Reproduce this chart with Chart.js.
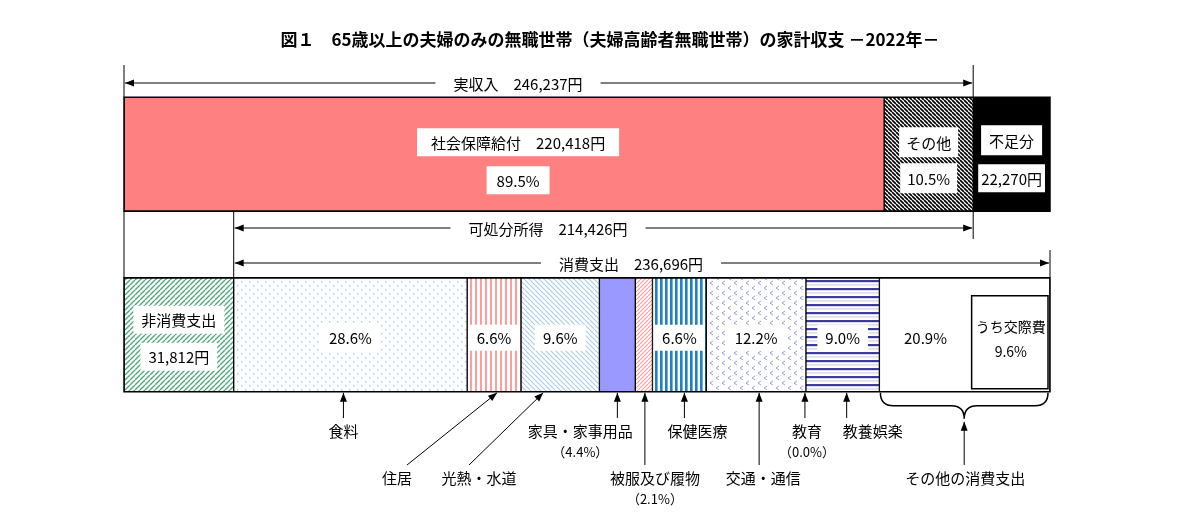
<!DOCTYPE html>
<html lang="ja">
<head>
<meta charset="utf-8">
<title>家計収支 2022</title>
<script src="https://cdn.jsdelivr.net/npm/chart.js@4.4.1/dist/chart.umd.min.js"></script>
<style>
html, body { margin: 0; padding: 0; background: #fff; }
#wrap { width: 1180px; height: 523px; }
</style>
</head>
<body>
<div id="wrap"><canvas id="chart-household" width="1180" height="523"></canvas></div>
<script>
// values
var rows = ['収入', '支出'];
var incomeLabels = ['社会保障給付', 'その他', '不足分'];
var incomeValues = [220418, 25819, 22270];
var incomePct = [89.5, 10.5];
var nonConsumptionLabel = '非消費支出';
var nonConsumption = 31812;
var consumptionTotal = 236696;
var spendLabels = ['食料', '住居', '光熱・水道', '家具・家事用品', '被服及び履物', '保健医療', '交通・通信', '教育', '教養娯楽', 'その他の消費支出'];
var spendPct = [28.6, 6.6, 9.6, 4.4, 2.1, 6.6, 12.2, 0.0, 9.0, 20.9];
var socialLabel = 'うち交際費';
var socialPct = 9.6;
var spanLabels = ['実収入', '可処分所得', '消費支出'];
var spanValues = [246237, 214426, 236696];

var FONT = '"Noto Sans CJK JP", "Noto Sans", sans-serif';
var ctx0 = document.getElementById('chart-household').getContext('2d');

function yen(v) { return v.toLocaleString('en-US') + '円'; }

function makePattern(w, h, draw) {
    var c = document.createElement('canvas');
    c.width = w; c.height = h;
    var g = c.getContext('2d');
    g.fillStyle = '#fff';
    g.fillRect(0, 0, w, h);
    draw(g, w, h);
    return ctx0.createPattern(c, 'repeat');
}
function diag(color, p, lw, back) {
    return makePattern(p, p, function(g) {
        g.strokeStyle = color; g.lineWidth = lw;
        g.beginPath();
        for (var k = -1; k <= 1; k++) {
            if (back) { g.moveTo(k * p, 0); g.lineTo(k * p + p, p); }
            else { g.moveTo(k * p, p); g.lineTo(k * p + p, 0); }
        }
        g.stroke();
    });
}
function vstripes(color, p, lw) {
    return makePattern(p, 4, function(g) {
        g.fillStyle = color; g.fillRect(0, 0, lw, 4);
    });
}

var patIncomeOther = diag('#000', 4, 1.7, true);
var patNonCons = diag('#4fa67c', 5, 1.4, false);
var patFood = makePattern(8, 8, function(g) {
    g.fillStyle = '#a9cdf2';
    g.fillRect(1, 1, 1.5, 1.5); g.fillRect(5, 5, 1.5, 1.5);
});
var patHousing = vstripes('#ff9c9c', 5, 2);
var patUtil = diag('#a6cdf0', 5, 1.2, true);
var patClothes = diag('#ff9c9c', 4, 1.1, false);
var patHealth = vstripes('#1f80c4', 5, 2.6);
var patTrans = makePattern(12, 10, function(g) {
    g.strokeStyle = '#9c9cf0'; g.lineWidth = 1;
    g.beginPath();
    g.moveTo(5, 1); g.lineTo(2, 3); g.lineTo(5, 5);
    g.moveTo(11, 6); g.lineTo(8, 8); g.lineTo(11, 10);
    g.stroke();
});
var patCulture = makePattern(4, 8, function(g) {
    g.fillStyle = '#3d3d99'; g.fillRect(0, 0, 4, 2.2);
    g.fillStyle = '#c8c8e0'; g.fillRect(0, 4.5, 4, 1);
});

var incomeFills = ['#ff8080', patIncomeOther, '#000'];
var spendFills = [patFood, patHousing, patUtil, '#9999ff', patClothes, patHealth, patTrans, '#fff', patCulture, '#fff'];

var datasets = [];
incomeLabels.forEach(function(name, i) {
    datasets.push({ label: name, data: [incomeValues[i], null], backgroundColor: incomeFills[i] });
});
datasets.push({ label: nonConsumptionLabel, data: [null, nonConsumption], backgroundColor: patNonCons });
spendLabels.forEach(function(name, i) {
    datasets.push({ label: name, data: [null, consumptionTotal * spendPct[i] / 100], backgroundColor: spendFills[i] });
});
datasets.forEach(function(d) {
    d.borderColor = '#000';
    d.borderWidth = 1;
    d.borderSkipped = false;
    d.barThickness = 114;
});

var maxValue = nonConsumption + consumptionTotal;

function arrowHead(ctx, x, y, ang) {
    ctx.save();
    ctx.translate(x, y); ctx.rotate(ang);
    ctx.beginPath();
    ctx.moveTo(0, 0); ctx.lineTo(-9, -3.5); ctx.lineTo(-9, 3.5); ctx.closePath();
    ctx.fill();
    ctx.restore();
}
function arrow(ctx, x1, y1, x2, y2) {
    ctx.beginPath(); ctx.moveTo(x1, y1); ctx.lineTo(x2, y2); ctx.stroke();
    arrowHead(ctx, x2, y2, Math.atan2(y2 - y1, x2 - x1));
}
function boxText(ctx, text, cx, cy, padX, boxH) {
    var w = ctx.measureText(text).width;
    ctx.fillStyle = '#fff';
    ctx.fillRect(cx - w / 2 - padX, cy - boxH / 2, w + 2 * padX, boxH);
    ctx.fillStyle = '#000';
    ctx.fillText(text, cx, cy + 1);
}
function line(ctx, x1, y1, x2, y2) {
    ctx.beginPath(); ctx.moveTo(x1, y1); ctx.lineTo(x2, y2); ctx.stroke();
}

var annotate = {
    id: 'annotate',
    afterDraw: function(chart) {
        var ctx = chart.ctx;
        var xs = chart.scales.x;
        var px = function(v) { return xs.getPixelForValue(v); };
        var el = function(ds, row) { return chart.getDatasetMeta(ds).data[row]; };
        var top = el(0, 0), bot = el(3, 1);
        var tTop = top.y - top.height / 2, tBot = top.y + top.height / 2;
        var bTop = bot.y - bot.height / 2, bBot = bot.y + bot.height / 2;
        var center = function(e) { return (e.x + e.base) / 2; };

        ctx.save();
        ctx.textAlign = 'center';
        ctx.textBaseline = 'middle';
        ctx.strokeStyle = '#000';
        ctx.fillStyle = '#000';

        // title
        ctx.font = 'bold 17px ' + FONT;
        ctx.fillText('図１　65歳以上の夫婦のみの無職世帯（夫婦高齢者無職世帯）の家計収支 －2022年－', 610, 40);

        // outer frames
        ctx.lineWidth = 1.5;
        ctx.strokeRect(px(0), tTop, px(maxValue) - px(0), tBot - tTop);
        ctx.strokeRect(px(0), bTop, px(maxValue) - px(0), bBot - bTop);

        // guide lines
        ctx.lineWidth = 1;
        var xInc = px(spanValues[0]), xNC = px(nonConsumption), xEnd = px(maxValue);
        line(ctx, px(0), 65, px(0), tTop);
        line(ctx, xInc, 65, xInc, tTop);
        line(ctx, px(0), tBot, px(0), bTop);
        line(ctx, xNC, tBot, xNC, bTop);
        line(ctx, xInc, tBot, xInc, 239);
        line(ctx, xEnd, 250, xEnd, bTop);

        // span arrows
        ctx.font = '15px ' + FONT;
        var spans = [
            { from: 0, y: 83, tx: 518 },
            { from: nonConsumption, y: 228, tx: 548 },
            { from: nonConsumption, y: 263, tx: 631 }
        ];
        spans.forEach(function(s, i) {
            var text = spanLabels[i] + '　' + yen(spanValues[i]);
            var w = ctx.measureText(text).width;
            var x1 = px(s.from), x2 = px(s.from + spanValues[i]);
            arrow(ctx, s.tx - w / 2 - 18, s.y, x1 + 1, s.y);
            arrow(ctx, s.tx + w / 2 + 18, s.y, x2 - 1, s.y);
            ctx.fillText(text, s.tx, s.y + 1);
        });

        // labels inside top bar
        ctx.font = '15px ' + FONT;
        var e0 = el(0, 0), e1 = el(1, 0), e2 = el(2, 0);
        boxText(ctx, incomeLabels[0] + '　' + yen(incomeValues[0]), center(e0) + 14, top.y - 12, 14, 28);
        boxText(ctx, incomePct[0].toFixed(1) + '%', center(e0) + 14, top.y + 26, 10, 28);
        boxText(ctx, incomeLabels[1], center(e1), top.y - 12, 7, 30);
        boxText(ctx, incomePct[1].toFixed(1) + '%', center(e1), top.y + 24, 7, 30);
        boxText(ctx, incomeLabels[2], center(e2), top.y - 14, 8, 30);
        boxText(ctx, yen(incomeValues[2]), center(e2), top.y + 24, 3, 28);

        // labels inside bottom bar
        var nc = el(3, 1);
        boxText(ctx, nonConsumptionLabel, center(nc), bot.y - 15, 8, 28);
        boxText(ctx, yen(nonConsumption), center(nc), bot.y + 22, 8, 28);
        var sx = px(maxValue - consumptionTotal * socialPct / 100);
        spendLabels.forEach(function(name, i) {
            if (spendPct[i] < 5) return;
            var e = el(4 + i, 1);
            var cx = (i === spendLabels.length - 1) ? (e.base + sx) / 2 : center(e);
            boxText(ctx, spendPct[i].toFixed(1) + '%', cx, bot.y + 3, 8, 26);
        });

        // うち交際費 box
        ctx.fillStyle = '#fff';
        ctx.fillRect(sx, bTop + 18, xEnd - 2 - sx, bBot - bTop - 21);
        ctx.fillStyle = '#000';
        ctx.lineWidth = 1.5;
        ctx.strokeRect(sx, bTop + 18, xEnd - 2 - sx, bBot - bTop - 21);
        ctx.font = '14px ' + FONT;
        ctx.fillText(socialLabel, (sx + xEnd) / 2, bot.y - 8);
        ctx.fillText(socialPct.toFixed(1) + '%', (sx + xEnd) / 2, bot.y + 17);

        // category arrows below
        ctx.lineWidth = 1;
        ctx.font = '15px ' + FONT;
        var tipY = bBot + 1;
        var notes = [
            { dx: -7, tail: null, ty: 418, lx: 0, ly: 431 },
            { dx: 3, tail: [407, 465], lx: 397, ly: 478 },
            { dx: -17, tail: [469, 465], lx: 479, ly: 478 },
            { dx: 0, tail: null, ty: 418, lx: -37, ly: 431, pct: true },
            { dx: 1, tail: null, ty: 465, lx: 10, ly: 478, pct: true },
            { dx: 5, tail: null, ty: 418, lx: 13, ly: 431 },
            { dx: 3, tail: null, ty: 465, lx: 4, ly: 478 },
            { dx: -1, tail: null, ty: 418, lx: 2, ly: 431, pct: true },
            { dx: 4, tail: null, ty: 418, lx: 26, ly: 431 }
        ];
        notes.forEach(function(n, i) {
            var tx = center(el(4 + i, 1)) + n.dx;
            var labelX;
            if (n.tail) {
                arrow(ctx, n.tail[0], n.tail[1], tx, tipY);
                labelX = n.lx;
            } else {
                arrow(ctx, tx, n.ty, tx, tipY);
                labelX = tx + n.lx;
            }
            ctx.fillText(spendLabels[i], labelX, n.ly);
            if (n.pct) {
                ctx.font = '13px ' + FONT;
                ctx.fillText('（' + spendPct[i].toFixed(1) + '%）', labelX, n.ly + 21);
                ctx.font = '15px ' + FONT;
            }
        });

        // brace for その他の消費支出
        var last = el(4 + spendLabels.length - 1, 1);
        var bl = last.base + 1, br = last.x - 2, bm = (bl + br) / 2;
        var y0 = bBot + 1, yMid = y0 + 13, yTip = y0 + 26;
        ctx.lineWidth = 1.5;
        ctx.beginPath();
        ctx.moveTo(bl, y0);
        ctx.quadraticCurveTo(bl, yMid, bl + 13, yMid);
        ctx.lineTo(bm - 13, yMid);
        ctx.quadraticCurveTo(bm, yMid, bm, yTip);
        ctx.quadraticCurveTo(bm, yMid, bm + 13, yMid);
        ctx.lineTo(br - 13, yMid);
        ctx.quadraticCurveTo(br, yMid, br, y0);
        ctx.stroke();
        ctx.lineWidth = 1;
        arrow(ctx, bm, 465, bm, yTip + 3);
        ctx.fillText(spendLabels[spendLabels.length - 1], bm + 1, 478);

        ctx.restore();
    }
};

var chart = new Chart(ctx0, {
    type: 'bar',
    data: { labels: rows, datasets: datasets },
    options: {
        indexAxis: 'y',
        responsive: false,
        animation: false,
        layout: { padding: { left: 124, right: 130, top: 64, bottom: 98 } },
        scales: {
            x: { stacked: true, display: false, min: 0, max: maxValue },
            y: { stacked: true, display: false }
        },
        plugins: {
            legend: { display: false },
            tooltip: { enabled: false }
        }
    },
    plugins: [annotate]
});
</script>
</body>
</html>
